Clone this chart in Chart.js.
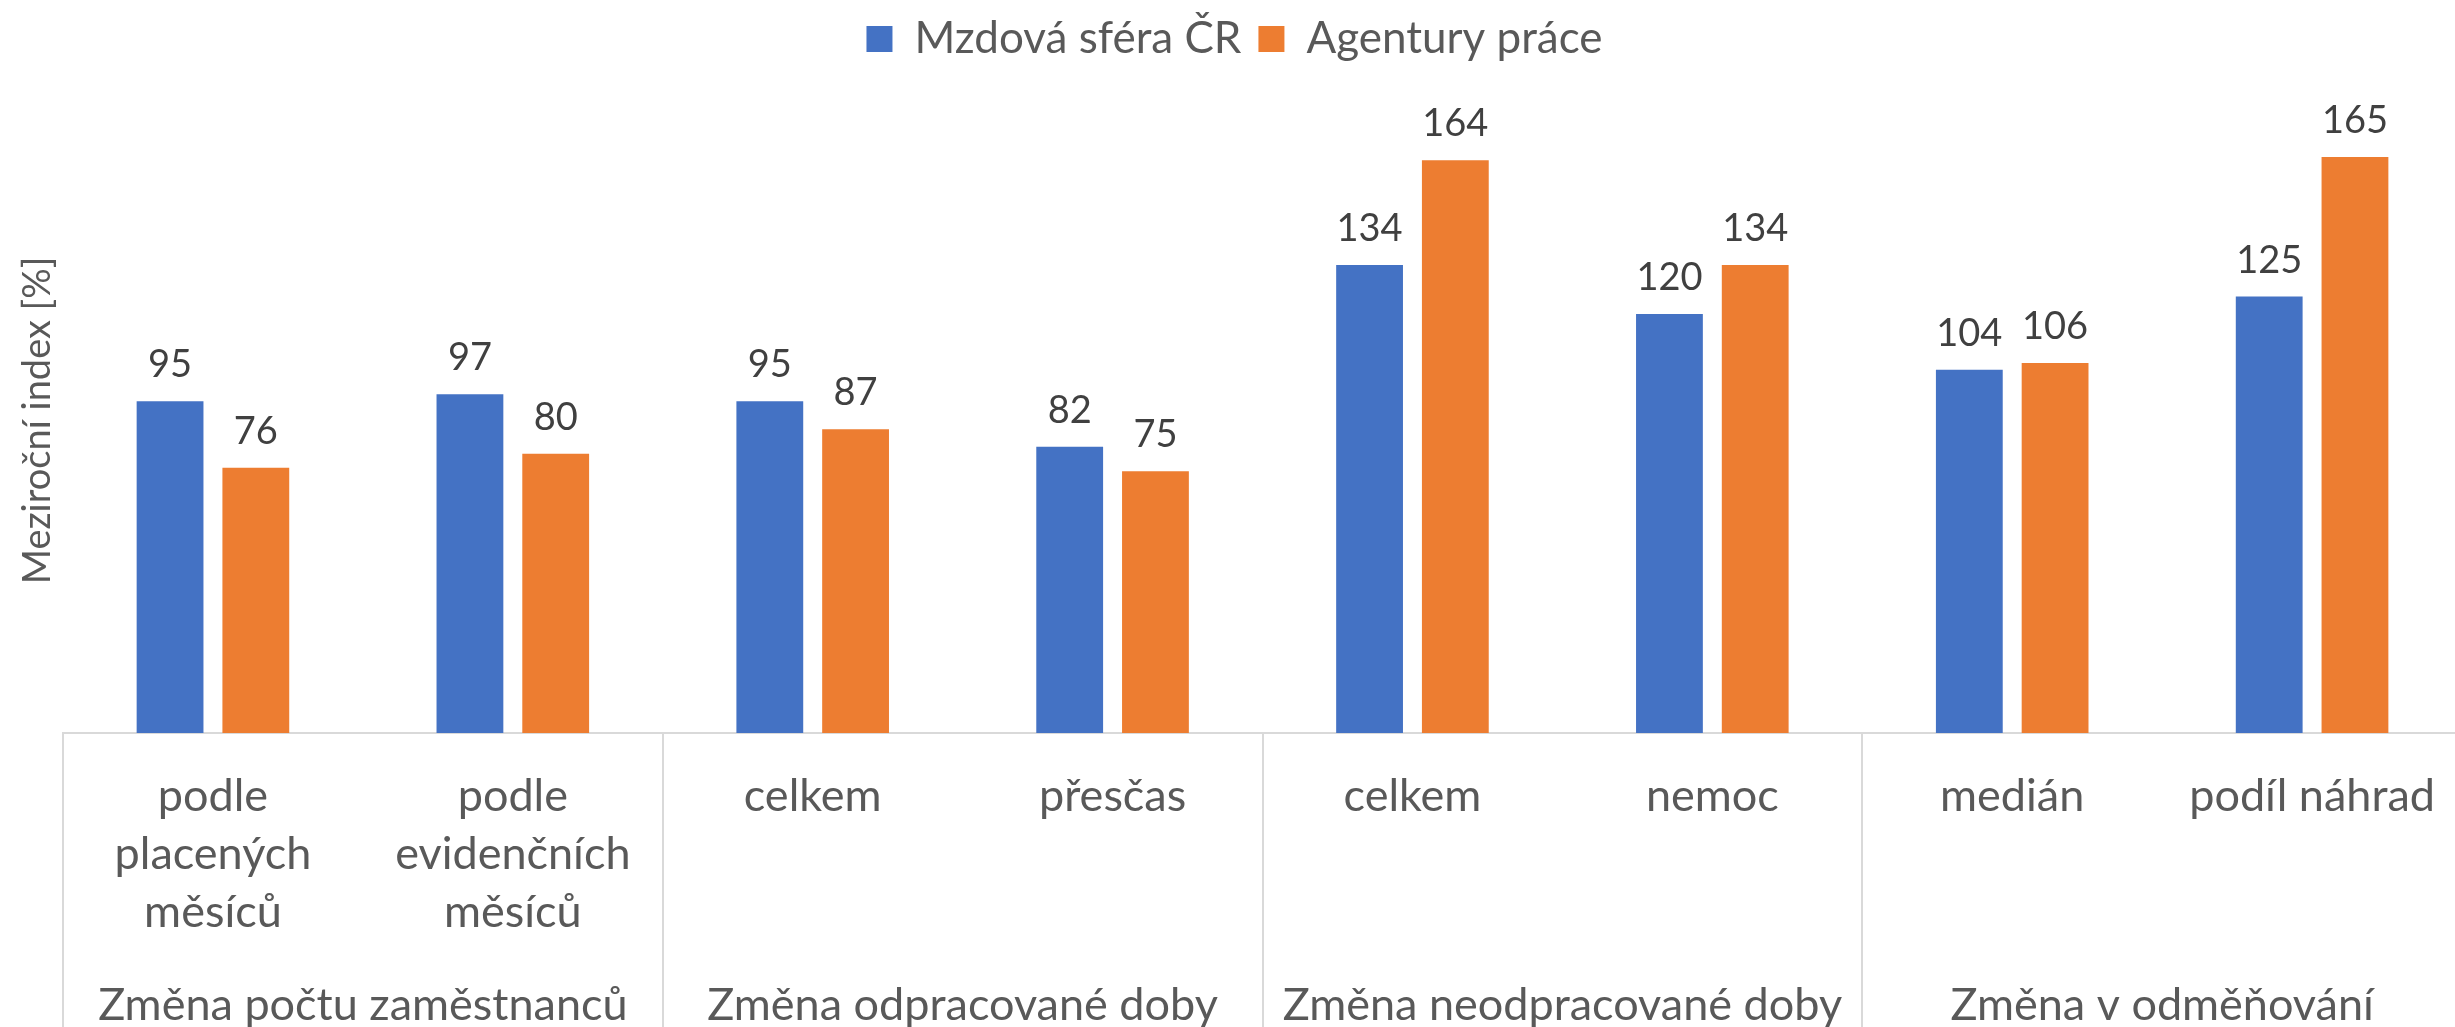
<!DOCTYPE html>
<html>
<head>
<meta charset="utf-8">
<script src="https://cdn.jsdelivr.net/npm/chart.js@4.4.0/dist/chart.umd.min.js"></script>
<style>
  html, body { margin: 0; padding: 0; background: #fff; overflow: hidden; }
</style>
</head>
<body>
<canvas id="canvas" width="2469" height="1027"></canvas>
<script>
// data
var categories = [
  ['podle', 'placených', 'měsíců'],
  ['podle', 'evidenčních', 'měsíců'],
  ['celkem'], ['přesčas'],
  ['celkem'], ['nemoc'],
  ['medián'], ['podíl náhrad']
];
var groups = ['Změna počtu zaměstnanců', 'Změna odpracované doby', 'Změna neodpracované doby', 'Změna v odměňování'];
var mzdovaSfera = [95, 97, 95, 82, 134, 120, 104, 125];
var agentury = [76, 80, 87, 75, 164, 134, 106, 165];
var seriesNames = ['Mzdová sféra ČR', 'Agentury práce'];
var yMax = 179;

var FONT = 'Lato';
var GREY = '#595959';

// legend takes the space down to the top of the plot
var legendSpace = {
  id: 'legendSpace',
  beforeLayout: function(chart) {
    var lg = chart.legend;
    if (lg && !lg._patched) {
      var fit = lg.fit;
      lg.fit = function() { fit.call(this); this.height = 108; };
      lg._patched = true;
    }
  }
};

// numbers above the bars
var valueLabels = {
  id: 'valueLabels',
  afterDatasetsDraw: function(chart) {
    var ctx = chart.ctx;
    ctx.save();
    ctx.font = '38px ' + FONT;
    ctx.fillStyle = '#404040';
    ctx.textAlign = 'center';
    ctx.textBaseline = 'alphabetic';
    chart.data.datasets.forEach(function(ds, i) {
      chart.getDatasetMeta(i).data.forEach(function(bar, j) {
        ctx.fillText(ds.data[j], bar.x, bar.y - 24);
      });
    });
    ctx.restore();
  }
};

// second level of the category axis
var groupAxis = {
  id: 'groupAxis',
  afterDraw: function(chart) {
    var x = chart.scales.x, ctx = chart.ctx, area = chart.chartArea;
    var half = (x.getPixelForValue(1) - x.getPixelForValue(0)) / 2;
    ctx.save();
    ctx.strokeStyle = '#d9d9d9';
    ctx.lineWidth = 2;
    for (var g = 0; g <= groups.length; g++) {
      var sx = Math.round(x.getPixelForValue(g * 2) - half);
      ctx.beginPath();
      ctx.moveTo(sx, area.bottom);
      ctx.lineTo(sx, chart.height);
      ctx.stroke();
    }
    ctx.font = '45px ' + FONT;
    ctx.fillStyle = GREY;
    ctx.textAlign = 'center';
    ctx.textBaseline = 'alphabetic';
    groups.forEach(function(name, g) {
      var cx = (x.getPixelForValue(g * 2) + x.getPixelForValue(g * 2 + 1)) / 2;
      ctx.fillText(name, cx, 1020);
    });
    ctx.restore();
  }
};

function renderGraph() {
  var ctx = document.getElementById('canvas').getContext('2d');

  var barData = {
    labels: categories,
    datasets: [{
      label: seriesNames[0],
      data: mzdovaSfera,
      backgroundColor: '#4472c4',
      categoryPercentage: 0.572,
      barPercentage: 0.779
    }, {
      label: seriesNames[1],
      data: agentury,
      backgroundColor: '#ed7d31',
      categoryPercentage: 0.572,
      barPercentage: 0.779
    }]
  };

  var barOptions = {
    responsive: false,
    animation: false,
    devicePixelRatio: 1,
    layout: { padding: 0 },
    plugins: {
      tooltip: { enabled: false },
      legend: {
        position: 'top',
        labels: {
          boxWidth: 26,
          boxHeight: 26,
          padding: 17,
          color: GREY,
          font: { family: FONT, size: 44 }
        }
      }
    },
    scales: {
      x: {
        grid: { display: false, drawTicks: false },
        border: { display: true, color: '#d9d9d9', width: 2 },
        ticks: {
          color: GREY,
          padding: 34,
          autoSkip: false,
          maxRotation: 0,
          font: { family: FONT, size: 45, lineHeight: '58px' }
        },
        afterFit: function(scale) { scale.height = 294; }
      },
      y: {
        min: 0,
        max: yMax,
        grid: { display: false, drawTicks: false },
        border: { display: false },
        ticks: { display: false },
        title: {
          display: true,
          text: 'Meziroční index [%]',
          color: GREY,
          padding: { top: 15, bottom: 0 },
          font: { family: FONT, size: 38 }
        },
        afterFit: function(scale) { scale.width = 63; }
      }
    }
  };

  new Chart(ctx, {
    type: 'bar',
    data: barData,
    options: barOptions,
    plugins: [legendSpace, valueLabels, groupAxis]
  });
}

renderGraph();
</script>
</body>
</html>
